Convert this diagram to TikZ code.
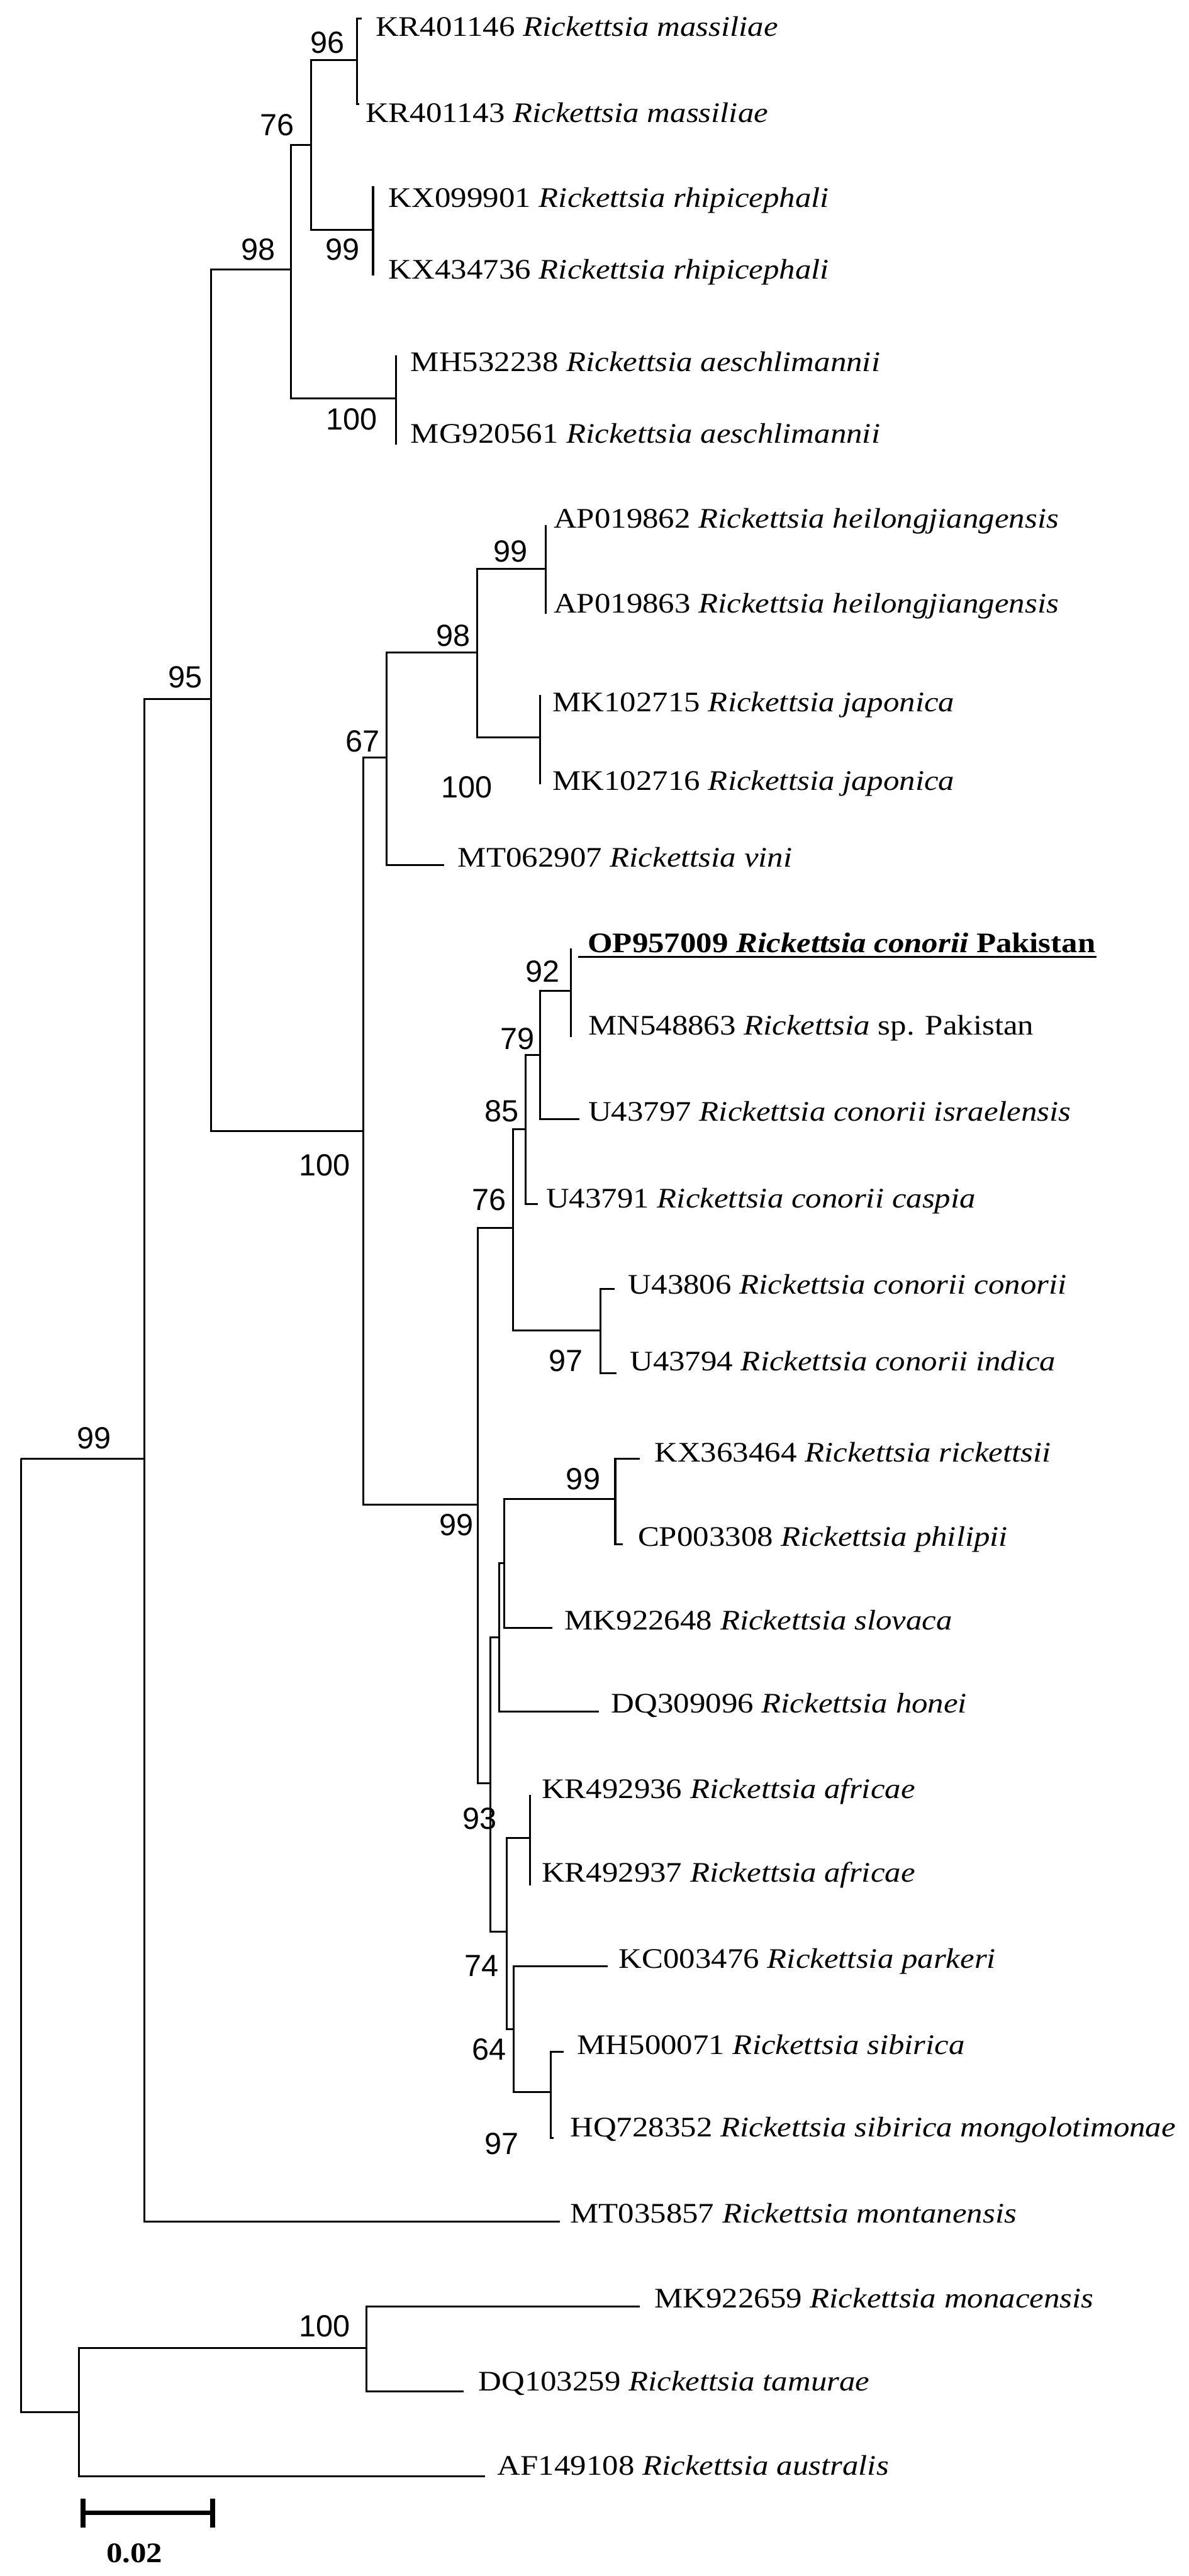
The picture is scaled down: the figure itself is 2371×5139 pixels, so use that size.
\documentclass[tikz,border=0pt]{standalone}
\usepackage{fontspec}
\setmainfont{Liberation Serif}
\newfontfamily\bsfont{Liberation Sans}
\newcommand\leaffont{\fontsize{5.65pt}{6.5pt}\selectfont}
\newcommand\bootfont{\bsfont\fontsize{6.1pt}{7pt}\selectfont}
\begin{document}
\begin{tikzpicture}[x=0.1pt,y=-0.1pt,
  br/.style={line width=0.38pt},
  leaf/.style={anchor=base west, inner sep=0pt, font=\leaffont, xscale=1.13},
  boot/.style={anchor=base east, inner sep=0pt, font=\bootfont}]
\useasboundingbox (0,0) rectangle (2371,5139);
% internal nodes
\coordinate (root) at (42,2910);
\coordinate (nA) at (288,2910);
\coordinate (nD) at (158,4812);
\coordinate (n95) at (421,1395);
\coordinate (n98a) at (580,538);
\coordinate (n100a) at (725,2257);
\coordinate (n76a) at (620,289);
\coordinate (n100b) at (790,795);
\coordinate (n96) at (712,120);
\coordinate (n99b) at (744,458);
\coordinate (n67) at (771,1511);
\coordinate (n99c) at (953,3002);
\coordinate (n98b) at (952,1302);
\coordinate (n99d) at (1088,1135);
\coordinate (n100c) at (1077,1471);
\coordinate (n76b) at (1023,2450);
\coordinate (n93) at (978,3557);
\coordinate (n85) at (1048,2253);
\coordinate (n97a) at (1198,2654);
\coordinate (n79) at (1077,2105);
\coordinate (n92) at (1139,1977);
\coordinate (nB) at (996,3266);
\coordinate (n74) at (1011,3854);
\coordinate (nC) at (1006,3118);
\coordinate (n99e) at (1227,2990);
\coordinate (nAf) at (1057,3667);
\coordinate (n64) at (1024,4048);
\coordinate (n97b) at (1099,4174);
\coordinate (n100e) at (731,4684);
% tips
\coordinate (t1) at (721,37);
\coordinate (t2) at (717,208);
\coordinate (t3) at (746,373);
\coordinate (t4) at (746,548);
\coordinate (t5) at (792,711);
\coordinate (t6) at (792,885);
\coordinate (t7) at (1090,1049);
\coordinate (t8) at (1090,1223);
\coordinate (t9) at (1079,1388);
\coordinate (t10) at (1079,1562);
\coordinate (t11) at (886,1726);
\coordinate (t12) at (1141,1894);
\coordinate (t13) at (1141,2067);
\coordinate (t14) at (1155,2233);
\coordinate (t15) at (1073,2402);
\coordinate (t16) at (1226,2571);
\coordinate (t17) at (1229,2740);
\coordinate (t18) at (1276,2910);
\coordinate (t19) at (1242,3081);
\coordinate (t20) at (1101,3247);
\coordinate (t21) at (1194,3415);
\coordinate (t22) at (1059,3582);
\coordinate (t23) at (1059,3759);
\coordinate (t24) at (1212,3923);
\coordinate (t25) at (1124,4093);
\coordinate (t26) at (1104,4265);
\coordinate (t27) at (1117,4432);
\coordinate (t28) at (1276,4601);
\coordinate (t29) at (925,4771);
\coordinate (t30) at (967,4940);
% branches
\foreach \a/\b in {root/nA, root/nD, nA/n95, nA/t27, n95/n98a, n95/n100a,
  n98a/n76a, n98a/n100b, n76a/n96, n76a/n99b, n96/t1, n96/t2, n99b/t3, n99b/t4,
  n100b/t5, n100b/t6, n100a/n67, n100a/n99c, n67/n98b, n67/t11, n98b/n99d,
  n98b/n100c, n99d/t7, n99d/t8, n100c/t9, n100c/t10, n99c/n76b, n99c/n93,
  n76b/n85, n76b/n97a, n85/n79, n85/t15, n79/n92, n79/t14, n92/t12, n92/t13,
  n97a/t16, n97a/t17, n93/nB, n93/n74, nB/nC, nB/t21, nC/n99e, nC/t20,
  n99e/t18, n99e/t19, n74/nAf, n74/n64, nAf/t22, nAf/t23, n64/t24, n64/n97b,
  n97b/t25, n97b/t26, nD/n100e, nD/t30, n100e/t28, n100e/t29}
  \draw[br] (\a) |- (\b);
% bootstrap values
\node[boot] (b96) at (689,106) {96};
\node[boot] (b76a) at (589,270) {76};
\node[boot] (b98a) at (551,519) {98};
\node[boot] (b99b) at (719,519) {99};
\node[boot] (b100b) at (754,858) {100};
\node[boot] (b99d) at (1054,1121) {99};
\node[boot] (b98b) at (940,1289) {98};
\node[boot] (b95) at (406,1372) {95};
\node[boot] (b67) at (759,1500) {67};
\node[boot] (b100c) at (984,1591) {100};
\node[boot] (b92) at (1118,1959) {92};
\node[boot] (b79) at (1068,2093) {79};
\node[boot] (b85) at (1037,2237) {85};
\node[boot] (b100a) at (700,2346) {100};
\node[boot] (b76b) at (1012,2415) {76};
\node[boot] (b97a) at (1165,2736) {97};
\node[boot] (b99r) at (224,2890) {99};
\node[boot] (b99e) at (1199,2972) {99};
\node[boot] (b99c) at (946,3063) {99};
\node[boot] (b93) at (993,3649) {93};
\node[boot] (b74) at (996,3943) {74};
\node[boot] (b64) at (1012,4109) {64};
\node[boot] (b97b) at (1036,4298) {97};
\node[boot] (b100e) at (700,4662) {100};
% leaf labels
\node[leaf] (l1) at (747,72) {KR401146 \textit{Rickettsia massiliae}};
\node[leaf] (l2) at (727,244) {KR401143 \textit{Rickettsia massiliae}};
\node[leaf] (l3) at (773,414) {KX099901 \textit{Rickettsia rhipicephali}};
\node[leaf] (l4) at (773,557) {KX434736 \textit{Rickettsia rhipicephali}};
\node[leaf] (l5) at (817,741) {MH532238 \textit{Rickettsia aeschlimannii}};
\node[leaf] (l6) at (817,884) {MG920561 \textit{Rickettsia aeschlimannii}};
\node[leaf] (l7) at (1102,1053) {AP019862 \textit{Rickettsia heilongjiangensis}};
\node[leaf] (l8) at (1102,1223) {AP019863 \textit{Rickettsia heilongjiangensis}};
\node[leaf] (l9) at (1100,1420) {MK102715 \textit{Rickettsia japonica}};
\node[leaf] (l10) at (1100,1577) {MK102716 \textit{Rickettsia japonica}};
\node[leaf] (l11) at (911,1729) {MT062907 \textit{Rickettsia vini}};
\node[leaf] (l12) at (1170,1900) {\bfseries OP957009 \textit{Rickettsia conorii} Pakistan};
\node[leaf] (l13) at (1171,2065) {MN548863 \textit{Rickettsia} sp. Pakistan};
\node[leaf] (l14) at (1171,2236) {U43797 \textit{Rickettsia conorii israelensis}};
\node[leaf] (l15) at (1087,2409) {U43791 \textit{Rickettsia conorii caspia}};
\node[leaf] (l16) at (1251,2581) {U43806 \textit{Rickettsia conorii conorii}};
\node[leaf] (l17) at (1254,2734) {U43794 \textit{Rickettsia conorii indica}};
\node[leaf] (l18) at (1303,2916) {KX363464 \textit{Rickettsia rickettsii}};
\node[leaf] (l19) at (1270,3085) {CP003308 \textit{Rickettsia philipii}};
\node[leaf] (l20) at (1124,3251) {MK922648 \textit{Rickettsia slovaca}};
\node[leaf] (l21) at (1217,3417) {DQ309096 \textit{Rickettsia honei}};
\node[leaf] (l22) at (1078,3588) {KR492936 \textit{Rickettsia africae}};
\node[leaf] (l23) at (1078,3755) {KR492937 \textit{Rickettsia africae}};
\node[leaf] (l24) at (1232,3926) {KC003476 \textit{Rickettsia parkeri}};
\node[leaf] (l25) at (1149,4098) {MH500071 \textit{Rickettsia sibirica}};
\node[leaf] (l26) at (1135,4262) {HQ728352 \textit{Rickettsia sibirica mongolotimonae}};
\node[leaf] (l27) at (1135,4434) {MT035857 \textit{Rickettsia montanensis}};
\node[leaf] (l28) at (1303,4604) {MK922659 \textit{Rickettsia monacensis}};
\node[leaf] (l29) at (952,4770) {DQ103259 \textit{Rickettsia tamurae}};
\node[leaf] (l30) at (990,4937) {AF149108 \textit{Rickettsia australis}};
% underline of the study sequence
\coordinate (ulA) at (1153,1909);
\coordinate (ulB) at (2187,1909);
\draw[line width=0.45pt] (ulA) -- (ulB);
% scale bar
\coordinate (sbL) at (166,5013);
\coordinate (sbR) at (424,5013);
\draw[line width=0.85pt] (sbL) -- (sbR);
\draw[line width=1pt] ([yshift=2.9pt]sbL) -- ([yshift=-2.9pt]sbL);
\draw[line width=1pt] ([yshift=2.9pt]sbR) -- ([yshift=-2.9pt]sbR);
\node[anchor=base, inner sep=0pt, font=\leaffont\bfseries, xscale=1.13] (sbt) at (268,5112) {0.02};
\end{tikzpicture}
\end{document}
